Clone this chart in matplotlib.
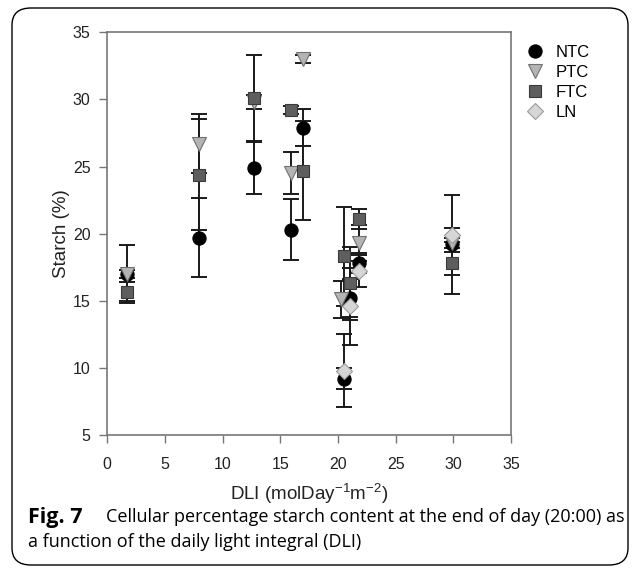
import matplotlib
matplotlib.use("Agg")
import matplotlib.pyplot as plt
from matplotlib.patches import FancyBboxPatch

# DLI positions and starch (%) per treatment
ntc_x = [1.7, 7.95, 12.75, 15.9, 16.95, 20.5, 21.0, 21.85, 29.9]
ntc_y = [17.0, 19.7, 24.9, 20.3, 27.9, 9.2, 15.2, 17.8, 19.2]
ntc_err = [2.15, 2.95, 1.95, 2.3, 1.4, 0.8, 1.4, 0.75, 3.7]

ptc_x = [1.7, 7.95, 12.75, 15.9, 16.95, 20.3, 21.85, 29.9]
ptc_y = [17.0, 26.7, 29.8, 24.5, 33.0, 15.1, 19.3, 19.3]
ptc_err = [0.3, 2.2, 0.5, 1.55, 0.3, 1.4, 1.35, 0.4]

ftc_x = [1.7, 7.95, 12.75, 15.9, 16.95, 20.5, 21.0, 21.85, 29.9]
ftc_y = [15.67, 24.4, 30.1, 29.2, 24.7, 18.3, 16.3, 21.1, 17.8]
ftc_err = [0.7, 4.13, 3.2, 0.3, 3.7, 3.67, 2.7, 0.75, 0.85]

ln_x = [20.5, 21.0, 21.85, 29.9]
ln_y = [9.8, 14.6, 17.2, 19.9]
ln_err = [2.7, 2.86, 1.2, 0.5]

series = [
    ("NTC", ntc_x, ntc_y, ntc_err, "o", "black", "black", 9.5),
    ("PTC", ptc_x, ptc_y, ptc_err, "v", "#b4b4b4", "#707070", 10),
    ("FTC", ftc_x, ftc_y, ftc_err, "s", "#5e5e5e", "#3a3a3a", 8.5),
    ("LN", ln_x, ln_y, ln_err, "D", "#d6d6d6", "#9a9a9a", 8),
]

plt.rcParams["font.family"] = ["Liberation Sans", "DejaVu Sans"]
plt.rcParams["mathtext.fontset"] = "custom"
plt.rcParams["mathtext.rm"] = "Liberation Sans"
plt.rcParams["mathtext.it"] = "Liberation Sans"

fig = plt.figure(figsize=(6.34, 5.71), dpi=100)
ax = fig.add_axes([0.1692, 0.2382, 0.806 - 0.1692, 0.9434 - 0.2382])

for name, xs, ys, es, mk, fc, ec, ms in series:
    ax.errorbar(xs, ys, yerr=es, fmt="none", ecolor="#1a1a1a",
                elinewidth=1.4, capsize=6, capthick=1.4, zorder=2)
    ax.plot(xs, ys, linestyle="none", marker=mk, markersize=ms,
            markerfacecolor=fc, markeredgecolor=ec, markeredgewidth=0.8,
            label=name, zorder=3)

ax.set_xlim(0, 35)
ax.set_ylim(5, 35)
ax.set_xticks(range(0, 36, 5))
ax.set_yticks(range(5, 36, 5))
ax.tick_params(axis="both", direction="out", length=6, width=1,
               color="#777777", labelsize=11.5, labelcolor="#222222", pad=6)
ax.tick_params(axis="x", pad=10)
for side in ["left", "bottom", "right", "top"]:
    ax.spines[side].set_color("#777777")
    ax.spines[side].set_linewidth(1.2)

ax.set_ylabel("Starch (%)", fontsize=13.5, color="#222222", labelpad=2)
ax.set_xlabel("DLI (molDay$^{-1}$m$^{-2}$)", fontsize=13.5, color="#222222",
              labelpad=7)

ax.legend(loc="upper left", bbox_to_anchor=(0.995, 1.005), frameon=False,
          fontsize=12, handletextpad=0.6, labelspacing=0.3,
          borderaxespad=0.5, handlelength=1.3)

# caption box and text
box = FancyBboxPatch((12 / 634, 6 / 571), 616 / 634, 557 / 571,
                     boxstyle="round,pad=0,rounding_size=0.03",
                     transform=fig.transFigure, fill=False,
                     edgecolor="black", linewidth=1.0, clip_on=False)
fig.patches.append(box)

cap_font = ["Open Sans", "DejaVu Sans"]
fig.text(28 / 634, 1 - 517 / 571, "Fig. 7", fontsize=15.5, fontweight="bold",
         family=cap_font, va="center", ha="left")
fig.text(106 / 634, 1 - 517 / 571,
         "Cellular percentage starch content at the end of day (20:00) as",
         fontsize=13, family=cap_font, va="center", ha="left")
fig.text(28 / 634, 1 - 542 / 571,
         "a function of the daily light integral (DLI)",
         fontsize=13, family=cap_font, va="center", ha="left")

fig.savefig("out.png", dpi=100)
